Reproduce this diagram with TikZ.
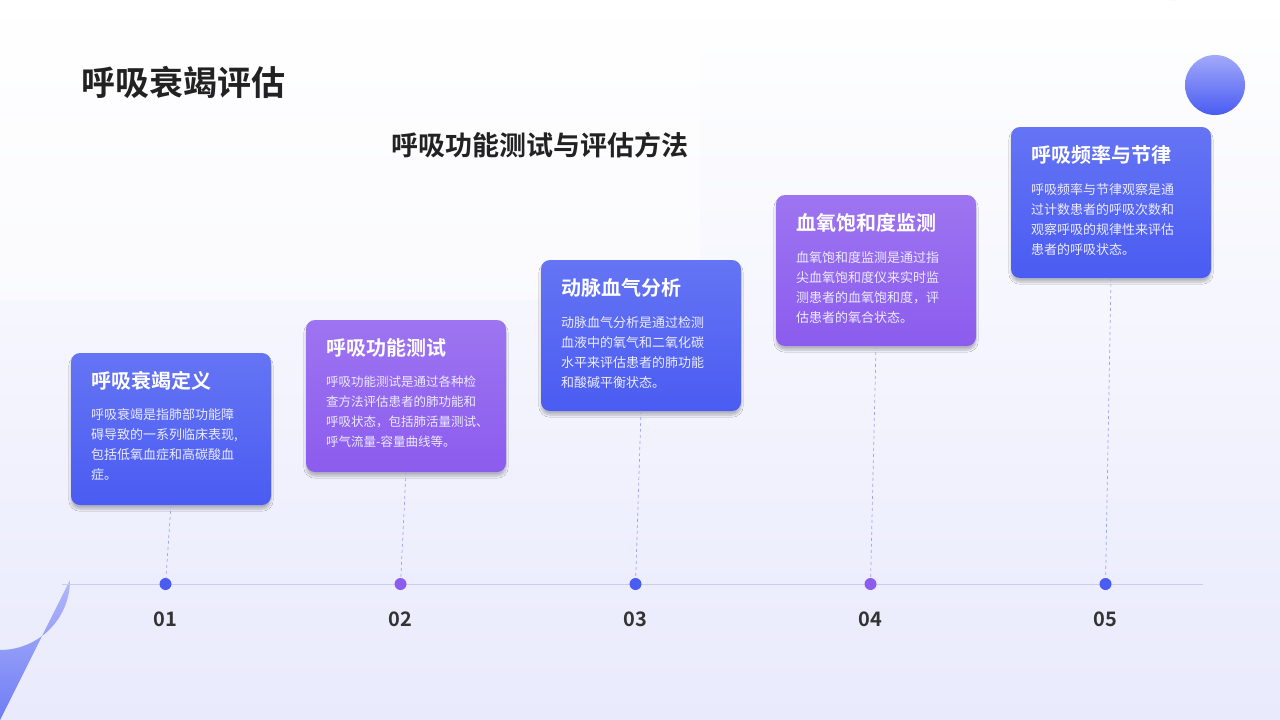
\documentclass[tikz,border=0pt]{standalone}
\usepackage{fontspec}
\setmainfont{Noto Sans CJK SC}
\newfontfamily\cjkbold{Noto Sans CJK SC Bold}
\usetikzlibrary{shadows.blur}
\definecolor{cblue}{HTML}{4A5CF2}
\definecolor{cblue2}{HTML}{6470F6}
\definecolor{cpurp}{HTML}{8C5CEE}
\definecolor{cpurp2}{HTML}{7B68F2}
\definecolor{bgl}{HTML}{E9EAFC}
\definecolor{lineC}{HTML}{C9CCF3}
\definecolor{dashC}{HTML}{9EA4EC}
\definecolor{ink}{HTML}{222222}
\definecolor{numC}{HTML}{333333}
\tikzset{
 card/.style={rounded corners=9pt, minimum width=200pt, blur shadow={shadow blur steps=8,shadow xshift=0pt,shadow yshift=-4pt,shadow opacity=25}},
 ctitle/.style={anchor=north west, text=white, font=\cjkbold\fontsize{20}{24}\selectfont, inner sep=0pt},
 cbody/.style={anchor=north west, text=white!92!blue, font=\fontsize{13}{20}\selectfont, align=left, inner sep=0pt},
 vdash/.style={dashC, dashed, line width=0.7pt},
 dotB/.style={circle, fill=cblue, minimum size=12pt, inner sep=0pt},
 dotP/.style={circle, fill=cpurp, minimum size=12pt, inner sep=0pt},
 num/.style={font=\cjkbold\fontsize{20}{24}\selectfont, text=numC},
}
\begin{document}
\begin{tikzpicture}[x=1pt,y=-1pt]
\useasboundingbox (0,0) rectangle (1280,720);
\shade[left color=white, right color=bgl, shading angle=0] (0,0) rectangle (1280,720);
\fill[white, opacity=0.5] (0,0) rectangle (700,300);
% decorations
\draw[line width=12pt, color=cblue!20] (1170,0) arc[start angle=180, end angle=235, radius=130];
\shade[top color=cblue2!60, bottom color=cblue] (1215,85) circle (30);
\shade[top color=cblue2!50, bottom color=cblue!80] (0,650) arc[start angle=90,end angle=0,radius=70] -- (0,720) -- cycle;
% titles
\node[anchor=west, font=\cjkbold\fontsize{34}{40}\selectfont, text=ink] (t) at (78,82) {呼吸衰竭评估};
\node[font=\cjkbold\fontsize{27}{32}\selectfont, text=ink] (st) at (540,145) {呼吸功能测试与评估方法};
% timeline
\coordinate (l0) at (62,584); \coordinate (l1) at (1203,584);
\draw[lineC, line width=1pt] (l0) -- (l1);
\foreach \i/\x/\yt/\yb/\c/\s in {1/71/353/505/B/cblue,2/306/320/472/P/cpurp,3/541/260/411/B/cblue,4/776/195/346/P/cpurp,5/1011/127/278/B/cblue}{
  \shade[card, top color=\s!85!white, bottom color=\s, rounded corners=9pt] (\x,\yt) rectangle ++(200,\yb-\yt);
  \coordinate (cb\i) at (\x+100,\yb);
  \node[dot\c] (d\i) at (\x+94.5,584) {};
  \draw[vdash] (cb\i) -- (d\i);
  \node[num] (n\i) at (\x+94.5,619) {0\i};
}
\node[ctitle] (h1) at (91,371) {呼吸衰竭定义};
\node[cbody] (b1) at (91,408) {呼吸衰竭是指肺部功能障\\碍导致的一系列临床表现,\\包括低氧血症和高碳酸血\\症。};
\node[ctitle] (h2) at (326,338) {呼吸功能测试};
\node[cbody, font=\fontsize{12.5}{20}\selectfont] (b2) at (326,376) {呼吸功能测试是通过各种检\\查方法评估患者的肺功能和\\呼吸状态，包括肺活量测试、\\呼气流量-容量曲线等。};
\node[ctitle] (h3) at (561,278) {动脉血气分析};
\node[cbody] (b3) at (561,316) {动脉血气分析是通过检测\\血液中的氧气和二氧化碳\\水平来评估患者的肺功能\\和酸碱平衡状态。};
\node[ctitle] (h4) at (796,213) {血氧饱和度监测};
\node[cbody] (b4) at (796,251) {血氧饱和度监测是通过指\\尖血氧饱和度仪来实时监\\测患者的血氧饱和度，评\\估患者的氧合状态。};
\node[ctitle] (h5) at (1031,145) {呼吸频率与节律};
\node[cbody] (b5) at (1031,183) {呼吸频率与节律观察是通\\过计数患者的呼吸次数和\\观察呼吸的规律性来评估\\患者的呼吸状态。};
\end{tikzpicture}
\end{document}
